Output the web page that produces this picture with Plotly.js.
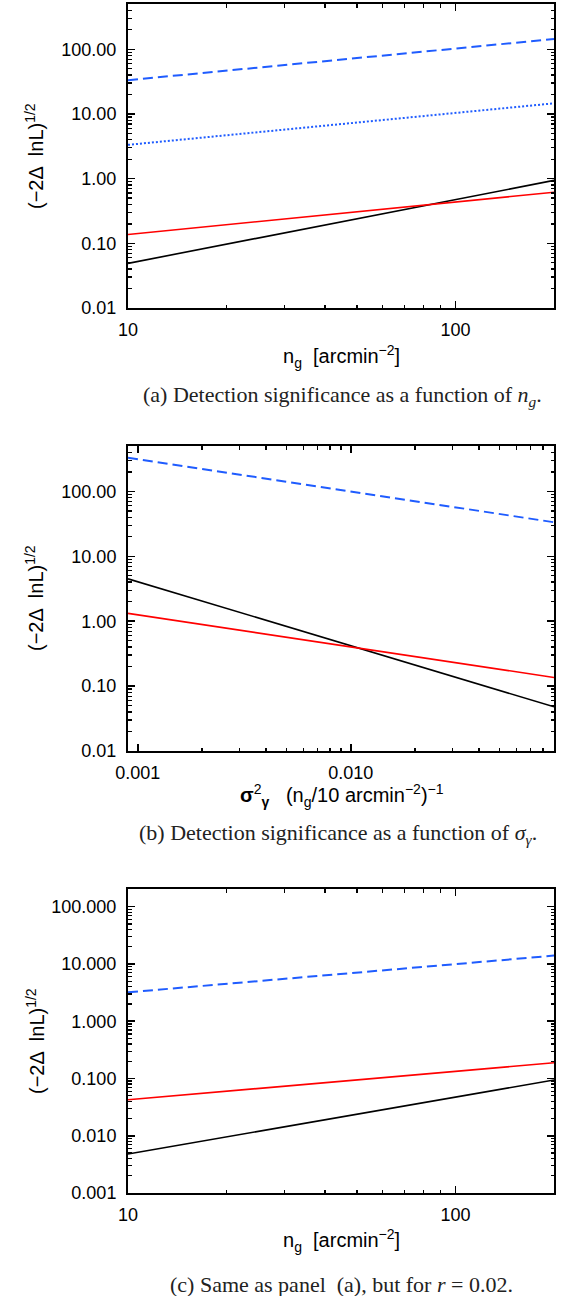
<!DOCTYPE html>
<html>
<head>
<meta charset="utf-8">
<script src="https://cdn.plot.ly/plotly-3.0.1.min.js"></script>
<style>html,body{margin:0;padding:0;background:#fff;}#chart{width:568px;height:1296px;}</style>
</head>
<body>
<div id="chart"></div>
<script>
// ---- data ----
// panel (a): significance vs n_g
var ngA = [10, 200];
var aDashed = [33.3, 144];
var aDotted = [3.33, 14.6];
var aBlack = [0.049, 0.94];
var aRed = [0.137, 0.616];

// panel (b): significance vs sigma_gamma^2
var sigB = [0.0009, 0.09];
var bDashed = [331, 33.5];
var bBlack = [4.5, 0.048];
var bRed = [1.32, 0.136];

// panel (c): same as (a), r = 0.02
var ngC = [10, 200];
var cDashed = [3.2, 14.0];
var cRed = [0.0425, 0.188];
var cBlack = [0.0048, 0.094];

// tick labels
var yTickValsAB = [0.01, 0.1, 1, 10, 100];
var yTickTextAB = ["0.01", "0.10", "1.00", "10.00", "100.00"];
var yTickValsC = [0.001, 0.01, 0.1, 1, 10, 100];
var yTickTextC = ["0.001", "0.010", "0.100", "1.000", "10.000", "100.000"];
var xTickValsNg = [10, 100];
var xTickTextNg = ["10", "100"];
var xTickValsSig = [0.001, 0.01];
var xTickTextSig = ["0.001", "0.010"];

var BLUE = '#1f5cff', RED = '#ff0000', BLACK = '#000000';
var W = 568, H = 1296;

// minor tick positions 2..9 x 10^n over decades
function minorVals(lo, hi) {
  var v = [];
  for (var e = lo; e <= hi; e++) for (var m = 2; m <= 9; m++) v.push(m * Math.pow(10, e));
  return v;
}

function tr(x, y, xa, ya, color, dash, width) {
  return {x: x, y: y, xaxis: xa, yaxis: ya, type: 'scatter', mode: 'lines',
          line: {color: color, dash: dash, width: width}, hoverinfo: 'skip'};
}

var data = [
  tr(ngA, aDashed, 'x', 'y', BLUE, '10px,5px', 2),
  tr(ngA, aDotted, 'x', 'y', BLUE, '2px,2px', 2),
  tr(ngA, aBlack, 'x', 'y', BLACK, 'solid', 1.6),
  tr(ngA, aRed, 'x', 'y', RED, 'solid', 1.6),
  tr(sigB, bDashed, 'x2', 'y2', BLUE, '10px,5px', 2),
  tr(sigB, bBlack, 'x2', 'y2', BLACK, 'solid', 1.6),
  tr(sigB, bRed, 'x2', 'y2', RED, 'solid', 1.6),
  tr(ngC, cDashed, 'x3', 'y3', BLUE, '10px,5px', 2),
  tr(ngC, cRed, 'x3', 'y3', RED, 'solid', 1.6),
  tr(ngC, cBlack, 'x3', 'y3', BLACK, 'solid', 1.6)
];

var FONT = 'Liberation Sans, Arial, sans-serif';
var TF = {family: FONT, size: 18, color: '#000'};
var AF = {family: FONT, size: 20, color: '#000'};
var xDom = [128 / W, 554 / W];
function yDom(top, bot) { return [1 - bot / H, 1 - top / H]; }

function axis(extra, mv) {
  var a = {
    type: 'log', showline: true, linecolor: '#000', linewidth: 2, mirror: 'ticks',
    ticks: 'inside', ticklen: 7, tickwidth: 1.5, tickcolor: '#000',
    showgrid: false, zeroline: false, tickmode: 'array', tickfont: TF,
    minor: {ticks: 'inside', ticklen: 3.5, tickwidth: 1.3, tickcolor: '#000',
            tickmode: 'array', tickvals: mv, showgrid: false},
    fixedrange: true
  };
  for (var k in extra) a[k] = extra[k];
  return a;
}

var layout = {
  width: W, height: H, margin: {l: 0, r: 0, t: 0, b: 0},
  paper_bgcolor: '#fff', plot_bgcolor: '#fff', showlegend: false,
  xaxis: axis({domain: xDom, anchor: 'y', range: [1, Math.log10(200)], tickvals: xTickValsNg, ticktext: xTickTextNg, ticklabelstandoff: 4}, minorVals(1, 2)),
  yaxis: axis({domain: yDom(4, 308), anchor: 'x', range: [-2, 2.7], tickvals: yTickValsAB, ticktext: yTickTextAB, ticklabelstandoff: 6}, minorVals(-2, 2)),
  xaxis2: axis({domain: xDom, anchor: 'y2', range: [Math.log10(0.0009), Math.log10(0.09)], tickvals: xTickValsSig, ticktext: xTickTextSig, ticklabelstandoff: 4}, minorVals(-4, -2)),
  yaxis2: axis({domain: yDom(446, 751), anchor: 'x2', range: [-2, 2.7], tickvals: yTickValsAB, ticktext: yTickTextAB, ticklabelstandoff: 6}, minorVals(-2, 2)),
  xaxis3: axis({domain: xDom, anchor: 'y3', range: [1, Math.log10(200)], tickvals: xTickValsNg, ticktext: xTickTextNg, ticklabelstandoff: 4}, minorVals(1, 2)),
  yaxis3: axis({domain: yDom(889, 1193), anchor: 'x3', range: [-3, Math.log10(204)], tickvals: yTickValsC, ticktext: yTickTextC, ticklabelstandoff: 6}, minorVals(-3, 2)),
  annotations: []
};

function ann(text, px, py, font, rot) {
  var a = {text: text, xref: 'paper', yref: 'paper', x: px / W, y: 1 - py / H,
           xanchor: 'center', yanchor: 'middle', showarrow: false, font: font};
  if (rot) a.textangle = rot;
  layout.annotations.push(a);
}

var YT = '(\u22122\u0394  lnL)<sup>1/2</sup>';
var XNG = 'n<sub>g</sub>  [arcmin<sup>\u22122</sup>]';
var XSIG = '<b>\u03c3</b><sup>2</sup><sub><b>\u03b3</b></sub>   (n<sub>g</sub>/10 arcmin<sup>\u22122</sup>)<sup>\u22121</sup>';
var CF = {family: 'Liberation Serif, Times New Roman, serif', size: 22, color: '#222'};

ann(YT, 35, 156, AF, -90);
ann(XNG, 341, 356, AF);
ann('(a) Detection significance as a function of <i>n<sub>g</sub></i>.', 342, 396, CF);

ann(YT, 35, 598, AF, -90);
ann(XSIG, 342, 796, AF);
ann('(b) Detection significance as a function of <i>\u03c3<sub>\u03b3</sub></i>.', 338, 834, CF);

ann(YT, 35, 1041, AF, -90);
ann(XNG, 341, 1240, AF);
ann('(c) Same as panel  (a), but for <i>r</i> = 0.02.', 341, 1284, CF);

Plotly.newPlot('chart', data, layout, {staticPlot: true, displayModeBar: false});
</script>
</body>
</html>
